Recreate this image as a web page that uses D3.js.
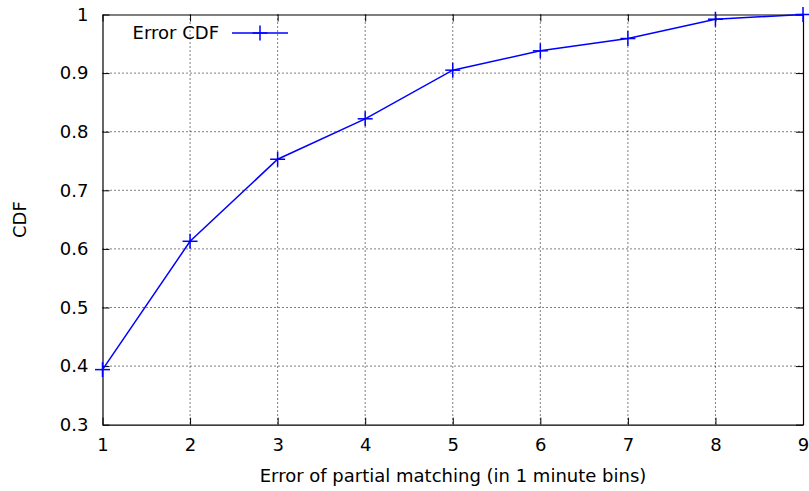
<!DOCTYPE html>
<html>
<head>
<meta charset="utf-8">
<script src="https://cdnjs.cloudflare.com/ajax/libs/d3/7.8.5/d3.min.js"></script>
<style>
  body { margin: 0; background: #fff; }
  text { font-family: "DejaVu Sans", sans-serif; fill: #000; }
</style>
</head>
<body>
<svg id="chart"></svg>
<script>
var width = 809;
var height = 491;
var margins = { left: 102.5, right: 6, top: 14.5, bottom: 66.3 };

// data
var errorBins = [1, 2, 3, 4, 5, 6, 7, 8, 9];
var cdfValues = [0.394, 0.613, 0.753, 0.822, 0.905, 0.938, 0.959, 0.992, 1.0];
var xTicks = [1, 2, 3, 4, 5, 6, 7, 8, 9];
var yTicks = [0.3, 0.4, 0.5, 0.6, 0.7, 0.8, 0.9, 1];
var seriesName = "Error CDF";

var fs = "18px";
var pw = width - margins.left - margins.right;
var ph = height - margins.top - margins.bottom;

var xscale = d3.scaleLinear().domain([1, 9]).range([0, pw]);
var yscale = d3.scaleLinear().domain([0.3, 1]).range([ph, 0]);

var svg = d3.select("svg").attr("width", width).attr("height", height);
var g = svg.append("g").attr("transform", "translate(" + margins.left + "," + margins.top + ")");

// grid
g.selectAll("line.vgrid").data(xTicks.slice(1, -1)).enter().append("line")
    .attr("x1", function(d){ return xscale(d); }).attr("x2", function(d){ return xscale(d); })
    .attr("y1", 0).attr("y2", ph)
    .attr("stroke", "#000").attr("stroke-width", 1).attr("stroke-dasharray", "1,3");
g.selectAll("line.hgrid").data(yTicks.slice(1, -1)).enter().append("line")
    .attr("y1", function(d){ return yscale(d); }).attr("y2", function(d){ return yscale(d); })
    .attr("x1", 0).attr("x2", pw)
    .attr("stroke", "#000").attr("stroke-width", 1).attr("stroke-dasharray", "1,3");

// axes with inward ticks, mirrored
var tickLen = 7;
var fmt = function(d){ return d3.format("")(d); };
var xaxis = d3.axisBottom(xscale).tickValues(xTicks).tickSizeInner(-tickLen).tickSizeOuter(0).tickPadding(tickLen + 7).tickFormat(fmt);
var yaxis = d3.axisLeft(yscale).tickValues(yTicks).tickSizeInner(-tickLen).tickSizeOuter(0).tickPadding(tickLen + 7).tickFormat(fmt);
var xtop = d3.axisTop(xscale).tickValues(xTicks).tickSizeInner(-tickLen).tickSizeOuter(0).tickFormat("");
var yright = d3.axisRight(yscale).tickValues(yTicks).tickSizeInner(-tickLen).tickSizeOuter(0).tickFormat("");

var gx = g.append("g").attr("transform", "translate(0," + ph + ")").call(xaxis);
var gy = g.append("g").call(yaxis);
var gt = g.append("g").call(xtop);
var gr = g.append("g").attr("transform", "translate(" + pw + ",0)").call(yright);
[gx, gy, gt, gr].forEach(function(a){
  a.attr("font-size", null).attr("font-family", null);
  a.select(".domain").attr("stroke", "#000").attr("stroke-width", 1.2);
  a.selectAll(".tick line").attr("stroke", "#000");
  a.selectAll("text").style("font-size", fs).attr("fill", "#000");
});

// series
var pts = errorBins.map(function(d, i){ return [d, cdfValues[i]]; });
var line = d3.line().x(function(d){ return xscale(d[0]); }).y(function(d){ return yscale(d[1]); });
g.append("path").datum(pts).attr("d", line)
    .attr("fill", "none").attr("stroke", "#0000ff").attr("stroke-width", 1.5);

var ms = 7.5;
var plus = function(sel){
  sel.append("line").attr("x1", -ms).attr("x2", ms).attr("y1", 0).attr("y2", 0);
  sel.append("line").attr("x1", 0).attr("x2", 0).attr("y1", -ms).attr("y2", ms);
};
g.selectAll("g.pt").data(pts).enter().append("g")
    .attr("transform", function(d){ return "translate(" + xscale(d[0]) + "," + yscale(d[1]) + ")"; })
    .attr("stroke", "#0000ff").attr("stroke-width", 1.5)
    .call(plus);

// legend
var leg = svg.append("g");
leg.append("text").attr("x", 219).attr("y", 39).attr("text-anchor", "end")
    .style("font-size", fs).text(seriesName);
leg.append("line").attr("x1", 232).attr("x2", 288).attr("y1", 33).attr("y2", 33)
    .attr("stroke", "#0000ff").attr("stroke-width", 1.5);
leg.append("g").attr("transform", "translate(260,33)")
    .attr("stroke", "#0000ff").attr("stroke-width", 1.5).call(plus);

// axis labels
svg.append("text").attr("x", 453).attr("y", 482).attr("text-anchor", "middle")
    .style("font-size", fs).text("Error of partial matching (in 1 minute bins)");
svg.append("text").attr("transform", "translate(26," + (margins.top + ph / 2) + ") rotate(-90)")
    .attr("text-anchor", "middle").style("font-size", fs).text("CDF");
</script>
</body>
</html>
